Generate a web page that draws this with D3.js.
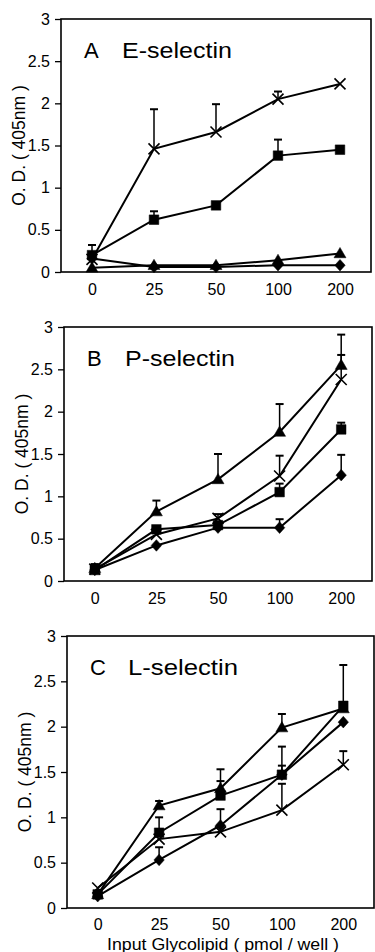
<!DOCTYPE html>
<html>
<head>
<meta charset="utf-8">
<script src="https://cdnjs.cloudflare.com/ajax/libs/d3/7.8.5/d3.min.js"></script>
<style>
  body { margin: 0; background: #fff; }
  svg { display: block; font-family: "Liberation Sans", Arial, Helvetica, sans-serif; }
</style>
</head>
<body>
<div id="chart"></div>
<script>
let doses = ["0", "25", "50", "100", "200"];
let yTicks = [0, 0.5, 1, 1.5, 2, 2.5, 3];
let yTickLabels = ["0", "0.5", "1", "1.5", "2", "2.5", "3"];
let panelLetters = ["A", "B", "C"];
let panelNames = ["E-selectin", "P-selectin", "L-selectin"];
let yLabel = "O. D. ( 405nm )";
let xLabel = "Input Glycolipid ( pmol / well )";

// A  E-selectin  (err = length of the upper error bar, 0 = none)
let eCross = [0.15, 1.46, 1.66, 2.05, 2.23];
let eCrossErr = [0, 0.47, 0.33, 0.09, 0];
let eSquare = [0.20, 0.62, 0.79, 1.38, 1.45];
let eSquareErr = [0.12, 0.10, 0, 0.19, 0];
let eTriangle = [0.05, 0.08, 0.08, 0.14, 0.22];
let eTriangleErr = [0, 0, 0, 0, 0];
let eDiamond = [0.16, 0.06, 0.06, 0.08, 0.08];
let eDiamondErr = [0, 0, 0, 0, 0];

// B  P-selectin
let pCross = [0.14, 0.55, 0.74, 1.24, 2.38];
let pCrossErr = [0, 0, 0.05, 0.24, 0.29];
let pSquare = [0.13, 0.61, 0.66, 1.05, 1.79];
let pSquareErr = [0.05, 0, 0, 0.10, 0.08];
let pTriangle = [0.15, 0.82, 1.20, 1.76, 2.55];
let pTriangleErr = [0.05, 0.13, 0.30, 0.33, 0.36];
let pDiamond = [0.13, 0.42, 0.63, 0.63, 1.25];
let pDiamondErr = [0, 0, 0, 0.10, 0.24];

// C  L-selectin
let lCross = [0.22, 0.76, 0.84, 1.08, 1.58];
let lCrossErr = [0, 0, 0, 0.29, 0.15];
let lSquare = [0.15, 0.83, 1.24, 1.47, 2.23];
let lSquareErr = [0, 0.17, 0.16, 0.31, 0.45];
let lTriangle = [0.15, 1.13, 1.32, 1.99, 2.20];
let lTriangleErr = [0, 0.05, 0.21, 0.15, 0];
let lDiamond = [0.13, 0.53, 0.91, 1.47, 2.05];
let lDiamondErr = [0, 0.14, 0.18, 0.10, 0];

let panelSeries = [
    [["cross", eCross, eCrossErr], ["square", eSquare, eSquareErr], ["triangle", eTriangle, eTriangleErr], ["diamond", eDiamond, eDiamondErr]],
    [["cross", pCross, pCrossErr], ["square", pSquare, pSquareErr], ["triangle", pTriangle, pTriangleErr], ["diamond", pDiamond, pDiamondErr]],
    [["cross", lCross, lCrossErr], ["square", lSquare, lSquareErr], ["triangle", lTriangle, lTriangleErr], ["diamond", lDiamond, lDiamondErr]]
];

// frame of each panel, in page pixels
let frames = [
    {left: 61, right: 371, top: 19, bottom: 272},
    {left: 64, right: 372, top: 327, bottom: 581},
    {left: 67, right: 374, top: 636, bottom: 908}
];

let markerPath = (type) => {
    if (type === "square") return "M-4.8,-4.8H4.8V4.8H-4.8Z";
    if (type === "triangle") return "M0,-6L6,4.3L-6,4.3Z";
    if (type === "diamond") return "M0,-5.8L5.2,0L0,5.8L-5.2,0Z";
    return "M-5.5,-5.5L5.5,5.5M5.5,-5.5L-5.5,5.5";
};

let svg = d3.select("#chart")
    .append("svg")
    .attr("width", 375)
    .attr("height", 952);

frames.forEach((f, p) => {

    let x = d3.scalePoint()
        .domain(doses)
        .range([f.left, f.right])
        .padding(0.5);

    let y = d3.scaleLinear()
        .domain([0, 3])
        .range([f.bottom, f.top]);

    let panel = svg.append("g").attr("class", "panel");

    // y axis
    panel.append("g")
        .attr("transform", "translate(" + f.left + ",0)")
        .call(d3.axisLeft(y).tickValues(yTicks).tickSize(6).tickPadding(5)
            .tickFormat((d, i) => yTickLabels[i]))
        .call(g => g.select(".domain").remove())
        .call(g => g.selectAll("line").attr("stroke", "#000").attr("stroke-width", 1.3))
        .call(g => g.selectAll("text").attr("fill", "#000").style("font-size", "16px")
            .style("font-family", "'Liberation Sans', Arial, sans-serif"));

    // x axis (labels only)
    panel.append("g")
        .attr("transform", "translate(0," + f.bottom + ")")
        .call(d3.axisBottom(x).tickSize(0).tickPadding(p === 2 ? 10.5 : 12))
        .call(g => g.select(".domain").remove())
        .call(g => g.selectAll("text").attr("fill", "#000").style("font-size", "16px")
            .style("font-family", "'Liberation Sans', Arial, sans-serif"));

    // frame
    panel.append("rect")
        .attr("x", f.left)
        .attr("y", f.top)
        .attr("width", f.right - f.left)
        .attr("height", f.bottom - f.top)
        .attr("fill", "none")
        .attr("stroke", "#000")
        .attr("stroke-width", 1.6);

    // y label
    panel.append("text")
        .attr("transform", "translate(" + (f.left - 36) + "," + ((f.top + f.bottom) / 2) + ") rotate(-90)")
        .attr("text-anchor", "middle")
        .style("font-size", "17.5px")
        .text(yLabel);

    // panel title
    panel.append("text")
        .attr("x", f.left + 23)
        .attr("y", f.top + 39)
        .style("font-size", "22px")
        .text(panelLetters[p]);

    panel.append("text")
        .attr("x", f.left + 61)
        .attr("y", f.top + 39)
        .attr("textLength", 110)
        .attr("lengthAdjust", "spacingAndGlyphs")
        .style("font-size", "22px")
        .text(panelNames[p]);

    let series = panelSeries[p].map(s => ({type: s[0], values: s[1], err: s[2]}));

    let line = d3.line()
        .x((d, i) => x(doses[i]))
        .y(d => y(d));

    // lines
    panel.selectAll(".series-line")
        .data(series)
        .enter().append("path")
            .attr("d", s => line(s.values))
            .attr("fill", "none")
            .attr("stroke", "#000")
            .attr("stroke-width", 2);

    // error bars
    series.forEach(s => {
        let bars = s.values.map((v, i) => ({dose: doses[i], v: v, e: s.err[i]})).filter(d => d.e > 0);

        panel.selectAll(null)
            .data(bars)
            .enter().append("line")
                .attr("x1", d => x(d.dose))
                .attr("x2", d => x(d.dose))
                .attr("y1", d => y(d.v))
                .attr("y2", d => y(d.v + d.e))
                .attr("stroke", "#000")
                .attr("stroke-width", 1.5);

        panel.selectAll(null)
            .data(bars)
            .enter().append("line")
                .attr("x1", d => x(d.dose) - 4)
                .attr("x2", d => x(d.dose) + 4)
                .attr("y1", d => y(d.v + d.e))
                .attr("y2", d => y(d.v + d.e))
                .attr("stroke", "#000")
                .attr("stroke-width", 2);
    });

    // markers
    series.forEach(s => {
        panel.selectAll(null)
            .data(s.values)
            .enter().append("path")
                .attr("transform", (d, i) => "translate(" + x(doses[i]) + "," + y(d) + ")")
                .attr("d", markerPath(s.type))
                .attr("fill", s.type === "cross" ? "none" : "#000")
                .attr("stroke", "#000")
                .attr("stroke-width", s.type === "cross" ? 1.6 : 0.5);
    });
});

// x axis title under the last panel
svg.append("text")
    .attr("x", 107)
    .attr("y", 950)
    .attr("textLength", 232)
    .attr("lengthAdjust", "spacingAndGlyphs")
    .style("font-size", "16px")
    .text(xLabel);
</script>
</body>
</html>
